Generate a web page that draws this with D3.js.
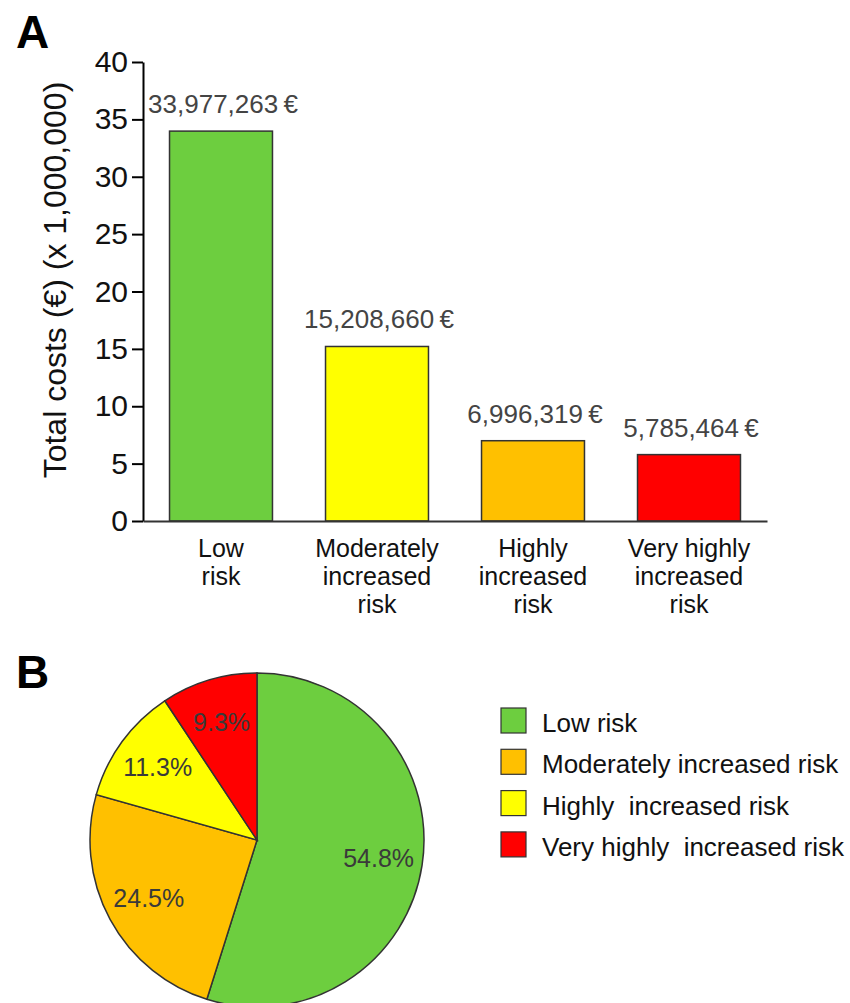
<!DOCTYPE html>
<html>
<head>
<meta charset="utf-8">
<script src="https://cdn.jsdelivr.net/npm/d3@7"></script>
<style>
  body { margin: 0; background: #fff; }
  text { font-family: "Liberation Sans", Arial, sans-serif; }
</style>
</head>
<body>
<svg id="chart" width="850" height="1003"></svg>
<script>
// bar chart data (A)
const barLabels = ["Low\nrisk", "Moderately\nincreased\nrisk", "Highly\nincreased\nrisk", "Very highly\nincreased\nrisk"];
const barCosts = [33977263, 15208660, 6996319, 5785464];
const barColors = ["#6dce3f", "#ffff00", "#ffc000", "#ff0000"];
const yTicks = [0, 5, 10, 15, 20, 25, 30, 35, 40];

// pie data (B)
const pieNames = ["Low risk", "Moderately increased risk", "Highly  increased risk", "Very highly  increased risk"];
const piePercent = [54.8, 24.5, 11.3, 9.3];
const pieColors = ["#6dce3f", "#ffc000", "#ffff00", "#ff0000"];

const svg = d3.select("#chart");

// panel letters
svg.append("text").text("A").attr("x", 16).attr("y", 48)
    .style("font-size", "46px").style("font-weight", "bold");
svg.append("text").text("B").attr("x", 16).attr("y", 688)
    .style("font-size", "46px").style("font-weight", "bold");

// ---- A: bars
const x = d3.scaleBand().domain(barLabels).range([143, 767])
    .paddingInner(0.34).paddingOuter(0.17);
const y = d3.scaleLinear().domain([0, 40]).range([521, 62]);

const yAxis = svg.append("g").attr("transform", "translate(143,0)")
    .call(d3.axisLeft(y).tickValues(yTicks).tickSize(11).tickSizeOuter(0).tickPadding(4));
yAxis.select(".domain").attr("stroke", "#000").attr("stroke-width", 2);
yAxis.selectAll(".tick line").attr("stroke", "#000").attr("stroke-width", 2);
yAxis.selectAll(".tick text").style("font-size", "30px").attr("fill", "#111")
    .style("font-family", "'Liberation Sans', Arial, sans-serif");

svg.selectAll("rect.bar").data(barCosts).enter().append("rect")
    .attr("class", "bar")
    .attr("x", (d, i) => x(barLabels[i]))
    .attr("width", x.bandwidth())
    .attr("y", d => y(d / 1e6))
    .attr("height", d => y(0) - y(d / 1e6))
    .attr("fill", (d, i) => barColors[i])
    .attr("stroke", "#333").attr("stroke-width", 1.5);

const xAxis = svg.append("g").attr("transform", "translate(0,521)")
    .call(d3.axisBottom(x).tickSize(0).tickSizeOuter(0).tickFormat(""));
xAxis.select(".domain").attr("stroke", "#333").attr("stroke-width", 2);
xAxis.selectAll(".tick").each(function(d) {
    const t = d3.select(this).append("text")
        .attr("text-anchor", "middle").attr("fill", "#111")
        .style("font-size", "25px");
    d.split("\n").forEach((line, k) => {
        t.append("tspan").attr("x", 0).attr("y", 36 + k * 28).text(line);
    });
});

const fmt = d3.format(",");
svg.selectAll("text.val").data(barCosts).enter().append("text")
    .attr("class", "val")
    .attr("x", (d, i) => x(barLabels[i]) + x.bandwidth() / 2 + 2)
    .attr("y", d => y(d / 1e6) - 18)
    .attr("text-anchor", "middle").attr("fill", "#444")
    .style("font-size", "26px")
    .text(d => fmt(d) + "\u2009€");

svg.append("text")
    .attr("transform", "translate(66,280) rotate(-90)")
    .attr("text-anchor", "middle").attr("fill", "#111")
    .style("font-size", "32px")
    .text("Total costs (€) (x 1,000,000)");

// ---- B: pie
const pie = d3.pie().sort(null).value(d => d);
const arcs = pie(piePercent);
const R = 167;
const arc = d3.arc().innerRadius(0).outerRadius(R);
const labelArc = d3.arc().innerRadius(123).outerRadius(123);
const gPie = svg.append("g").attr("transform", "translate(257,840)");
gPie.selectAll("path").data(arcs).enter().append("path")
    .attr("d", arc)
    .attr("fill", (d, i) => pieColors[i])
    .attr("stroke", "#333").attr("stroke-width", 1.5);
gPie.selectAll("text").data(arcs).enter().append("text")
    .attr("transform", d => `translate(${labelArc.centroid(d)})`)
    .attr("text-anchor", "middle").attr("dy", "0.35em")
    .attr("fill", "#3a3a3a").style("font-size", "25px")
    .text(d => d.data.toFixed(1) + "%");

// legend
const legend = svg.append("g").attr("transform", "translate(501,708)");
const rows = legend.selectAll("g").data(pieNames).enter().append("g")
    .attr("transform", (d, i) => `translate(0,${i * 41.3})`);
rows.append("rect").attr("width", 25).attr("height", 25)
    .attr("fill", (d, i) => pieColors[i]).attr("stroke", "#333").attr("stroke-width", 1.2);
rows.append("text").attr("x", 41).attr("y", 24)
    .attr("fill", "#111").style("font-size", "26px").style("white-space", "pre")
    .text(d => d);
</script>
</body>
</html>
